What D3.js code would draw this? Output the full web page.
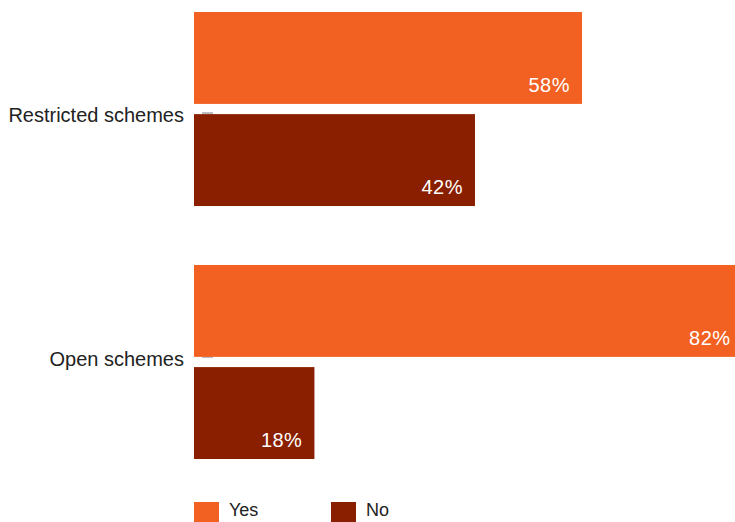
<!DOCTYPE html>
<html><head><meta charset="utf-8">
<script src="https://cdn.jsdelivr.net/npm/d3@7"></script>
<style>body{margin:0;background:#fff;overflow:hidden}svg{display:block}</style>
</head><body>
<svg id="c" width="735" height="522"></svg>
<script>
const categories = ["Restricted schemes", "Open schemes"];
const seriesNames = ["Yes", "No"];
const yesValues = [58, 82];
const noValues = [42, 18];
const colors = ["#F26122", "#8A1F00"];

const data = categories.map((c, i) => ({cat: c, values: [
  {key: "Yes", v: yesValues[i]}, {key: "No", v: noValues[i]}]}));

const svg = d3.select("#c");
const font = "'Liberation Sans', Arial, Helvetica, sans-serif";
const x0 = 194;
const x = d3.scaleLinear().domain([0, 100]).range([x0, x0 + 669]);
const y = d3.scaleBand().domain(categories).range([12, 459]).paddingInner(0.233).paddingOuter(0);
const yi = d3.scaleBand().domain(seriesNames).range([0, y.bandwidth()]).paddingInner(0.1).paddingOuter(0);
const color = d3.scaleOrdinal().domain(seriesNames).range(colors);

// ticks (light gray, mostly hidden behind bars)
const tickY = (c, i) => i === 0 ? y(c) + yi("No") - 1 : y(c) + yi("Yes") + yi.bandwidth();
svg.append("g").selectAll("line").data(categories).join("line")
  .attr("x1", x0 + 8).attr("x2", x0 + 19)
  .attr("y1", tickY).attr("y2", tickY)
  .attr("stroke", "#b8b8bc").attr("stroke-width", 2);

// category labels
svg.append("g").selectAll("text").data(categories).join("text")
  .attr("x", x0 - 10).attr("y", (c, i) => tickY(c, i) + 2)
  .attr("dy", "0.35em").attr("text-anchor", "end")
  .attr("font-family", font).attr("font-size", 20).attr("fill", "#222")
  .text(d => d);

const g = svg.append("g").selectAll("g").data(data).join("g")
  .attr("transform", d => `translate(0,${y(d.cat)})`);
g.selectAll("rect").data(d => d.values).join("rect")
  .attr("x", x(0)).attr("y", d => yi(d.key))
  .attr("width", d => x(d.v) - x(0)).attr("height", yi.bandwidth())
  .attr("fill", d => color(d.key));
g.selectAll("text").data(d => d.values).join("text")
  .attr("x", d => x(d.v) - 12).attr("y", d => yi(d.key) + yi.bandwidth() - 12)
  .attr("text-anchor", "end").attr("font-family", font).attr("font-size", 20)
  .attr("fill", "#fff").attr("letter-spacing", 0.5)
  .text(d => d.v + "%");

// legend
const lg = svg.append("g").selectAll("g").data(seriesNames).join("g")
  .attr("transform", (d, i) => `translate(${x0 + i * 137},502)`);
lg.append("rect").attr("width", 25).attr("height", 25).attr("fill", d => color(d));
lg.append("text").attr("x", 35).attr("y", 14).attr("font-family", font)
  .attr("font-size", 18).attr("fill", "#222").text(d => d);
</script>
</body></html>
